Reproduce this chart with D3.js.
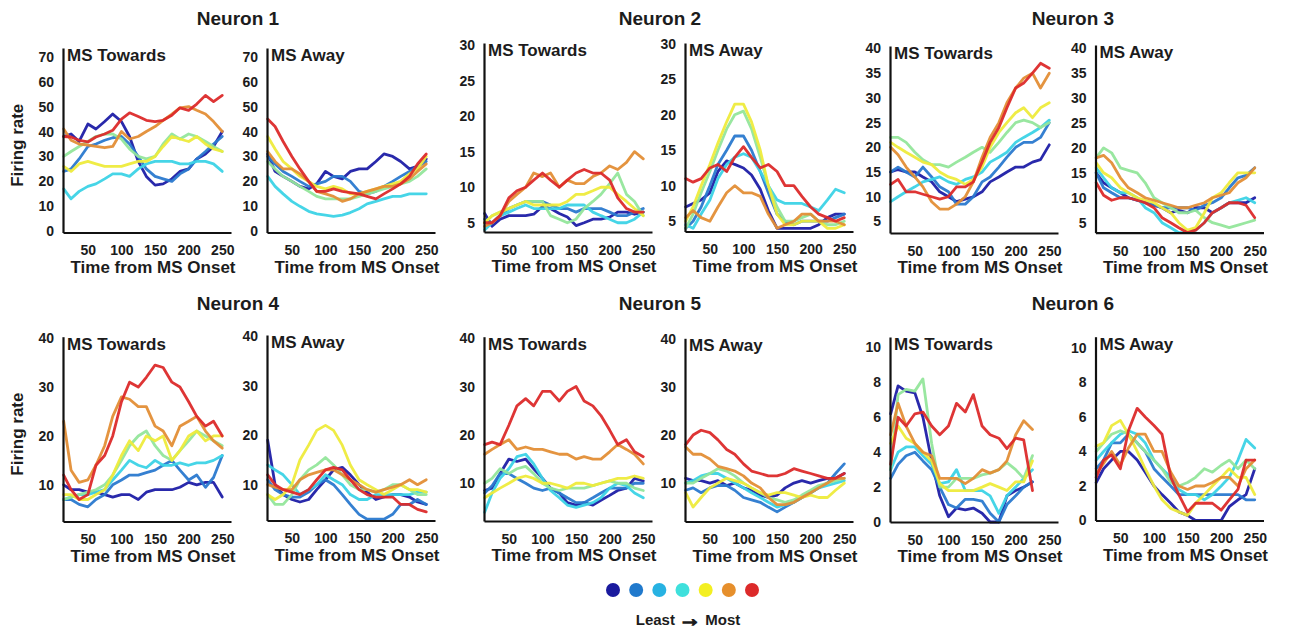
<!DOCTYPE html>
<html>
<head>
<meta charset="utf-8">
<script src="https://cdn.jsdelivr.net/npm/d3@7"></script>
<style>
  body { margin: 0; background: #fff; }
  svg text { font-family: "Liberation Sans", Arial, sans-serif; font-weight: bold; fill: #1c1c1c; }
</style>
</head>
<body>
<svg id="chart" width="1297" height="632"></svg>
<script>
// Time bins (ms from MS onset) shared by every trace
const times = [14, 25, 37, 50, 62, 75, 87, 100, 112, 125, 137, 150, 162, 175, 187, 200, 212, 225, 237, 250];
const xTicks = [50, 100, 150, 200, 250];

// Response levels, least -> most
const levels = ["L1", "L2", "L3", "L4", "L5", "L6", "L7"];
const levelColors = ["#1d1ea6", "#2a79cf", "#3cd3e6", "#93e69b", "#eeeb3c", "#e38e36", "#dc2a2a"];
const legendColors = ["#1a1a9e", "#2079cc", "#27b2e2", "#3fe0dc", "#f3ef22", "#e68f2c", "#dc2a2a"];

const neurons = ["Neuron 1", "Neuron 2", "Neuron 3", "Neuron 4", "Neuron 5", "Neuron 6"];
const conditions = ["MS Towards", "MS Away"];

// Y tick labels per neuron
const ticksN1 = [0, 10, 20, 30, 40, 50, 60, 70];
const ticksN2 = [5, 10, 15, 20, 25, 30];
const ticksN3 = [5, 10, 15, 20, 25, 30, 35, 40];
const ticksN4 = [10, 20, 30, 40];
const ticksN5 = [10, 20, 30, 40];
const ticksN6 = [0, 2, 4, 6, 8, 10];

// Firing rate traces, one array per level (least -> most)
const n1Towards = [
  [38, 39, 36, 43, 41, 44, 47, 44, 38, 28, 22, 18.5, 19, 21, 24, 25, 29, 31, 34, 40],
  [24, 25, 29, 34, 35, 36.5, 37.5, 38, 35, 30, 25, 22, 21, 20, 23, 25, 29, 32, 35, 38],
  [17, 13, 16, 18, 19, 21, 23, 23, 22, 25, 27, 28, 28, 28, 27, 27, 28, 28, 27, 24],
  [30, 32, 34, 36, 38, 39, 39, 37, 33, 30, 29, 30, 35, 39, 37, 39, 38, 36, 34, 32],
  [26, 24, 27, 28, 27, 26, 26, 26, 27, 28, 28, 30, 34, 38, 37, 36, 38, 35, 33, 32],
  [41, 36.5, 35, 34.5, 34, 33.5, 34, 40, 37, 38, 40, 42, 44.5, 47, 49.5, 50, 48.5, 47, 44, 40],
  [38, 37.8, 36.5, 35.8, 37.8, 39, 40.5, 45, 47.5, 46, 44.5, 44, 44.5, 46.5, 49.5, 48.5, 51, 54.5, 52, 54.5]
];
const n1Away = [
  [31, 24, 22, 20, 18, 17, 19, 24, 22, 21, 24, 25, 25, 28, 31, 30, 28, 25, 26, 29],
  [30, 27, 24, 22, 20, 18, 19, 20, 22, 22, 20, 16, 15, 16, 18, 20, 22, 24, 26, 28],
  [22, 18, 15, 12, 10, 8, 7, 6.5, 6, 6.5, 7.5, 9, 11, 12, 13, 14, 14, 15, 15, 15],
  [28, 25, 22, 20, 18, 16, 14, 13, 13, 13, 13, 14, 15, 16, 17, 18, 19, 20, 22, 25],
  [38, 33, 28, 25, 22, 20, 18, 17, 18, 17, 15, 15, 16, 17, 18, 19, 20, 23, 25, 30],
  [32, 28, 25, 25, 23, 20, 16, 15, 14, 12, 13, 15, 16, 17, 18, 18, 19, 21, 24, 27],
  [45, 42, 36, 30, 25, 20, 16, 16, 17, 16, 15.5, 15, 14, 13, 15, 17, 19, 22, 27, 31]
];
const n2Towards = [
  [6.3, 4.5, 5.5, 6, 6, 6, 6.2, 7.3, 7, 6.3, 5.8, 4.6, 5, 5.5, 5.5, 5.8, 6.5, 6.5, 6.2, 6.5],
  [5.5, 5, 6, 7, 7.5, 8, 8, 8, 7.5, 7, 7, 6.5, 7, 7, 7, 6.5, 6, 6, 6.5, 7],
  [4, 5, 6, 6.5, 7, 7.5, 7, 7, 7, 7, 7.5, 7.5, 7.5, 6.5, 6, 5.5, 5, 5, 5.5, 6.5],
  [5, 6, 6.5, 7, 7.5, 8, 8, 8, 6, 5.5, 5, 5.5, 7, 8, 9, 10.5, 12, 9, 8, 6],
  [5, 6, 6.5, 7, 7.5, 8, 7.5, 7.5, 7.5, 7.5, 8, 9, 9, 9.5, 10, 10, 9, 8, 7, 6],
  [4.5, 5, 6, 8, 9, 10, 12, 11.5, 12, 10, 11, 10.5, 10.5, 11.5, 12, 13, 12.5, 13.5, 15, 14],
  [5, 5, 6, 8.5, 9.5, 10, 11, 12, 11, 10, 11, 12, 12.5, 12, 12, 11, 8.5, 7, 6.5, 6.5]
];
const n2Away = [
  [7, 7.5, 8, 9, 12, 13.5, 13, 12.5, 11.5, 9.5, 6.5, 4, 4, 4, 4, 4, 4.5, 5.5, 6, 6],
  [4, 5, 7, 10, 13, 15, 17, 17, 15, 12, 9, 6, 5, 4.5, 5, 5, 5, 5, 5.5, 6],
  [4.5, 4, 6, 8, 11, 13, 14, 14.5, 14, 12, 10, 8, 7.5, 7.5, 7.5, 7, 6.5, 8, 9.5, 9],
  [4, 6, 9, 12, 15, 18, 20, 20.5, 18, 14, 10, 7, 5, 5, 5.5, 6, 5, 4.5, 4.5, 5],
  [5, 7, 10, 13, 16, 19, 21.5, 21.5, 19, 15, 10, 6, 4.5, 4.5, 5, 5, 5, 4, 4, 4.5],
  [5.5, 6.5, 5.5, 5, 7, 9, 10, 9, 9, 8.5, 6, 4, 4.5, 5, 6, 6, 5, 5, 5, 4.5],
  [11, 10.5, 11, 12.5, 13, 12, 14, 15.5, 14, 12.5, 13, 12, 10, 10, 8.5, 7, 6, 5.5, 5, 5.5]
];
const n3Towards = [
  [15, 15.5, 15, 15, 14, 13, 11, 10, 9, 9.5, 10, 11, 13, 14, 15, 16, 16, 17, 17.5, 20.5],
  [15, 16, 15, 14, 16, 14, 12, 11, 8.5, 8.5, 10, 13, 14, 16, 18, 20, 21, 21, 22, 25],
  [9, 10, 11, 12, 13, 13.5, 14, 13, 12.5, 13.5, 14, 15, 17, 18, 19, 21, 22, 23, 24, 25.5],
  [22, 22, 21, 19, 17.5, 16.5, 16.5, 16, 17, 18, 19, 20, 19, 21, 23, 25, 25.5, 25, 24, 25],
  [21, 20, 19, 18, 17, 16.5, 15, 14, 13.5, 12.5, 13.5, 16, 20, 23, 25, 27, 28, 26, 28, 29],
  [20, 18.5, 16, 14, 12, 9, 7.5, 7.5, 8.5, 10, 13, 18, 22, 25, 29, 32, 34, 35, 32, 35],
  [12.5, 13.5, 11, 11, 10.5, 10, 9.5, 10, 12, 12, 13, 17, 21, 24, 28, 32, 33, 35, 37, 36]
];
const n3Away = [
  [15, 13, 12, 11, 10, 9.5, 9, 8.5, 8, 7, 7.5, 7, 8, 8, 7, 8, 9, 9, 9, 10],
  [15, 12, 11, 10, 10, 9.5, 9, 8.5, 8, 8, 8, 8, 7.5, 8.5, 9, 10, 12, 14, 14.5, 16],
  [16, 14, 12, 11, 11, 10, 8, 7, 5, 4, 3, 3, 3.5, 5, 7, 8, 9, 9.5, 10, 9],
  [18, 20, 19, 16, 15.5, 15, 13, 10, 9, 8, 7, 7, 7.5, 6, 5, 4.5, 4, 4.5, 5, 5.5],
  [17, 15, 14, 12, 11, 10, 9.5, 9, 8, 7, 5, 3.5, 4, 7, 10, 11, 13, 15, 15, 15],
  [18, 18.5, 17, 14, 12, 11, 10, 9.5, 9, 8.5, 8, 8, 8.5, 9, 10, 10.5, 11, 13, 14, 16],
  [13, 10.5, 9.5, 10, 10, 9.5, 9, 8, 6, 5, 4, 3, 3.5, 5, 7, 8, 9, 9, 8.5, 6]
];
const n4Towards = [
  [10, 9, 9, 8.5, 8.5, 8, 7.5, 8, 8, 7, 8.5, 9, 9, 9, 9.5, 10.5, 10, 10.5, 10.5, 7.5],
  [7, 7, 6, 5.5, 7, 8, 10, 11, 12, 12, 12.5, 13, 14, 15, 13, 11, 12, 9.5, 11.5, 16],
  [7, 7.5, 8, 8, 8.5, 9, 11, 13, 15, 14, 13.5, 15, 14, 14, 14.5, 14, 14.5, 14.5, 15, 16],
  [7, 7.5, 8, 8.5, 9, 10, 12, 15, 18, 20, 21, 18, 16, 15, 17, 19, 21, 20, 19, 18],
  [8, 8, 7, 7, 8, 9, 12, 16, 19, 17, 20, 19, 20, 15, 17, 20, 21, 19, 20, 20],
  [23, 13, 10.5, 11, 14, 18, 24, 28, 27.5, 26, 26, 22, 21, 18, 22, 23, 24, 21, 19, 17.5],
  [12, 9, 7, 8, 14, 16, 20, 27, 31, 30, 32, 34.5, 34, 31, 30, 27, 24, 22, 23, 20]
];
const n4Away = [
  [19, 10, 8, 7, 6.5, 7, 9, 11, 13, 13.5, 12, 10, 8.5, 7, 7.5, 8, 8, 7.5, 6.5, 6],
  [11, 9, 8, 7.5, 7.5, 8.5, 10, 11, 10, 8, 6, 4, 3, 3, 3, 4, 6, 6, 7, 6],
  [14, 13, 12, 10, 8, 9, 10, 12, 11, 10, 8, 7, 7, 8, 8, 8, 8, 8, 8.5, 8.5],
  [8, 6, 6, 8, 11, 13, 14, 15.5, 14, 12, 10, 9, 9, 8.5, 9, 10, 10, 9, 8, 8],
  [8, 7, 8, 10, 15, 18, 21, 22, 21, 18, 14, 11, 10, 9, 8, 9, 10, 9, 9, 8.5],
  [10, 9.5, 9, 9, 11, 12, 12.5, 13, 13, 12, 11, 10, 9, 8.5, 9, 9.5, 10, 11, 10, 11],
  [12, 10, 9, 8.5, 8, 9, 11, 13, 13.5, 13, 11, 9, 8, 7.5, 7.5, 7.5, 6, 6, 5, 4.5]
];
const n5Towards = [
  [8.5, 9, 12, 15, 14.5, 15, 13, 11, 9, 8, 6, 5.5, 6, 5.5, 6.5, 7.5, 8.5, 9, 11, 10.5],
  [8, 9.5, 12, 12, 11, 10, 9, 8.5, 9, 8, 7, 6, 6, 7, 8, 9, 9, 9, 10, 10],
  [4, 8, 11, 13, 15.5, 16, 14, 11, 8.5, 7, 5.5, 5, 5.5, 6, 7, 9, 10, 9.5, 8, 7],
  [10, 11, 13, 12, 13, 13.5, 12, 10, 9, 8.5, 9, 9, 9, 9.5, 10, 10.5, 10, 10, 9, 8.5],
  [7, 8, 9, 10, 11, 11.5, 11, 10, 10, 9.5, 9, 10, 10, 9.5, 10, 10.5, 11, 11, 11.5, 11],
  [16, 17, 18, 19, 17, 17.5, 17, 17, 16.5, 16, 16, 15, 15.5, 15, 15, 16.5, 18, 17, 16, 14],
  [18, 18.5, 18, 22, 26, 27.5, 26, 29, 29, 27, 29, 30, 27, 26, 24, 21, 18, 19, 16.5, 15.5]
];
const n5Away = [
  [11, 10.5, 10.5, 10, 10.5, 9.5, 10, 9, 8.5, 7.5, 7, 7.5, 9, 10, 10.5, 10, 10.5, 11, 11, 12],
  [8.5, 9, 8, 9, 9.5, 9.5, 8.5, 7, 6.5, 6, 5, 4, 5, 6, 7, 8, 9, 10, 12, 14],
  [10, 10.5, 11.5, 12, 12, 11, 10, 9, 8, 7, 6, 5, 5.5, 6, 7, 8, 9, 9.5, 10, 10.5],
  [10, 10, 11, 12, 13, 12.5, 11.5, 10, 9, 8, 7, 6.5, 6, 6.5, 7.5, 8.5, 9.5, 10, 10.5, 11],
  [8, 5, 7, 9, 10, 11, 10.5, 10, 9, 8, 7.5, 8, 8, 7.5, 7, 7.5, 7, 7, 8.5, 10],
  [17.5, 16, 16, 15, 13.5, 13, 12.5, 11.5, 10, 9, 7, 5.5, 5.5, 6, 7, 8, 9, 10, 11, 11],
  [18, 20, 21, 20.5, 19, 17, 16, 14, 12.5, 12, 11.5, 11.5, 12, 13, 12.5, 12, 11.5, 11, 11, 12]
];
const n6Towards = [
  [6.2, 7.8, 7.5, 7.4, 6, 3.5, 1.5, 0.3, 0.8, 0.7, 0.8, 0.5, 0, 0, 1.5, 1.8, 2, 2.3],
  [2.5, 3.3, 3.8, 4, 3.5, 3, 2, 1, 0.8, 1.3, 1.3, 1.2, 0.5, 0, 1, 1.5, 2, 2.3],
  [3, 4, 4.3, 4.3, 3.8, 3.3, 2.2, 2.3, 3, 1.8, 1.8, 1.8, 1.5, 0.5, 1.5, 2, 2.5, 3],
  [3, 7.3, 7.6, 7.5, 8.2, 4.5, 2, 2, 2.5, 2.5, 2.5, 2.7, 2.8, 3, 3.4, 3, 2.5, 3.8],
  [4.5, 5.5, 4.8, 4.5, 4, 3.5, 2.2, 1.8, 1.8, 1.8, 1.8, 2, 2.2, 2, 1.8, 2.3, 2.3, 3.5],
  [5, 6.8, 5.5, 4.5, 4, 3.8, 2.5, 2.5, 2.5, 2.2, 2.5, 3, 2.8, 3, 3.5, 5, 5.8, 5.3],
  [3.3, 6, 5.5, 6.2, 6.3, 5.5, 5, 5.5, 6.8, 6.3, 7.3, 5.5, 5, 4.8, 4.2, 4.8, 4.7, 1.8]
];
const n6Away = [
  [2.2, 3, 3.5, 4, 4, 3.5, 2.8, 2, 1.5, 1, 0.5, 0.3, 0, 0, 0, 0, 0.8, 1.2, 1.5, 3],
  [3, 3.5, 4.5, 4.5, 5, 4.5, 4, 3, 2.5, 2, 1.5, 1.5, 1.5, 1.5, 1.5, 1.5, 1.5, 1.5, 1.2, 1.2],
  [3.5, 4, 4.5, 5, 5.2, 5, 4.5, 3.5, 3, 2.5, 1.8, 1.5, 1.5, 1.2, 1.5, 2, 2.5, 3.5, 4.7, 4.2],
  [4, 4.5, 5, 5.2, 5, 4.5, 4, 3.5, 3, 2.2, 2, 2.2, 2.5, 3, 2.8, 3.2, 3.5, 3, 3.5, 3],
  [4.3, 4.5, 5.5, 5.8, 5, 4, 3, 2, 1.2, 0.7, 0.5, 0.3, 1, 1.5, 2, 2.5, 3, 2.5, 2.5, 1.5],
  [2.7, 3.3, 4, 3.2, 4.2, 5, 5, 4, 4, 2.8, 2, 1.8, 2, 2, 2.2, 2.5, 2.5, 2, 3, 3.5],
  [2.5, 3.5, 3.8, 3, 5.2, 6.5, 6, 5.5, 5, 2.5, 1.5, 0.5, 1, 1, 1, 0.6, 1.2, 1.8, 3.5, 3.5]
];

// ---- layout ----
const W = 1297, H = 632;
const svg = d3.select("#chart").attr("viewBox", `0 0 ${W} ${H}`);

const colLeft = [63, 267, 484, 685, 890, 1095.5];
const plotW = 168;
const xDomain = [13, 263];
const titleX = [238, 660, 1073];

// each panel: data, ticks, y domain at axis ends, pixel rows
const panels = [
  { n: 0, c: 0, data: n1Towards, ticks: ticksN1, yd: [-0.5, 73.5], bottom: 232.5, top: 48 },
  { n: 0, c: 1, data: n1Away,    ticks: ticksN1, yd: [-0.5, 73.5], bottom: 232.5, top: 48 },
  { n: 1, c: 0, data: n2Towards, ticks: ticksN2, yd: [3.7, 30.3],  bottom: 232,   top: 43 },
  { n: 1, c: 1, data: n2Away,    ticks: ticksN2, yd: [3.55, 30.1], bottom: 231.5, top: 43 },
  { n: 2, c: 0, data: n3Towards, ticks: ticksN3, yd: [2.66, 40.5], bottom: 233,   top: 46 },
  { n: 2, c: 1, data: n3Away,    ticks: ticksN3, yd: [3.0, 40.6],  bottom: 232.7, top: 45 },
  { n: 3, c: 0, data: n4Towards, ticks: ticksN4, yd: [2.5, 40.3],  bottom: 521.5, top: 336.7 },
  { n: 3, c: 1, data: n4Away,    ticks: ticksN4, yd: [2.75, 40.3], bottom: 520.5, top: 335 },
  { n: 4, c: 0, data: n5Towards, ticks: ticksN5, yd: [2.2, 40.3],  bottom: 521,   top: 336.7 },
  { n: 4, c: 1, data: n5Away,    ticks: ticksN5, yd: [2.0, 40.15], bottom: 521.5, top: 338.3 },
  { n: 5, c: 0, data: n6Towards, ticks: ticksN6, yd: [0, 10.6],    bottom: 522,   top: 337 },
  { n: 5, c: 1, data: n6Away,    ticks: ticksN6, yd: [0, 10.65],   bottom: 520.5, top: 336.7 }
];

const line = d3.line()
  .defined(d => d.v != null)
  .x(d => d.xp).y(d => d.yp)
  .curve(d3.curveLinear);

panels.forEach(p => {
  const col = (p.n % 3) * 2 + p.c;
  const left = colLeft[col];
  const x = d3.scaleLinear().domain(xDomain).range([left, left + plotW]);
  const y = d3.scaleLinear().domain(p.yd).range([p.bottom, p.top]);
  const g = svg.append("g").attr("class", "panel");

  // traces, least first so the strongest level sits on top
  const traces = g.append("g").attr("class", "traces");
  p.data.forEach((vals, li) => {
    const pts = vals.map((v, j) => ({ xp: x(times[j]), yp: y(v), v }));
    traces.append("path")
      .attr("d", line(pts))
      .attr("fill", "none")
      .attr("stroke", levelColors[li])
      .attr("stroke-width", 2.8)
      .attr("stroke-linejoin", "round")
      .attr("stroke-linecap", "round")
      .attr("opacity", 0.95);
  });

  // axes
  const xa = g.append("g")
    .attr("transform", `translate(0,${p.bottom})`)
    .call(d3.axisBottom(x).tickValues(xTicks).tickSize(0).tickPadding(13).tickFormat(d3.format("d")));
  const ya = g.append("g")
    .attr("transform", `translate(${left},0)`)
    .call(d3.axisLeft(y).tickValues(p.ticks).tickSize(0).tickPadding(9).tickFormat(d3.format("d")));
  [xa, ya].forEach(a => {
    a.attr("font-family", null).attr("font-size", null);
    a.select(".domain").attr("stroke", "#111").attr("stroke-width", 2.2);
    a.selectAll("text").style("font-size", "14px").attr("fill", "#1c1c1c");
  });

  // condition label inside the plot
  g.append("text")
    .attr("x", left + 4)
    .attr("y", p.top + 13)
    .style("font-size", "17px")
    .text(conditions[p.c]);

  // x axis title
  g.append("text")
    .attr("x", left + plotW / 2 + 6)
    .attr("y", p.bottom + 40)
    .attr("text-anchor", "middle")
    .style("font-size", "17px")
    .text("Time from MS Onset");

  // neuron title over each pair
  if (p.c === 0) {
    svg.append("text")
      .attr("x", titleX[p.n % 3])
      .attr("y", p.n < 3 ? 25 : 310)
      .attr("text-anchor", "middle")
      .style("font-size", "19px")
      .text(neurons[p.n]);
  }
  // y axis title on the left column
  if (col === 0) {
    const cy = (p.top + p.bottom) / 2;
    svg.append("text")
      .attr("transform", `translate(23,${cy + 5}) rotate(-90)`)
      .attr("text-anchor", "middle")
      .style("font-size", "17px")
      .text("Firing rate");
  }
});

// colour legend
const lx = d3.scalePoint().domain(levels).range([613, 752]);
const legend = svg.append("g").attr("class", "legend");
legend.selectAll("circle")
  .data(levels)
  .join("circle")
  .attr("cx", d => lx(d))
  .attr("cy", 590)
  .attr("r", 7)
  .attr("fill", (d, i) => legendColors[i]);
const lt = legend.append("text")
  .attr("x", 688)
  .attr("y", 625)
  .attr("text-anchor", "middle")
  .style("font-size", "15px");
lt.append("tspan").text("Least ");
lt.append("tspan")
  .style("font-size", "22px")
  .attr("stroke", "#1c1c1c")
  .attr("stroke-width", 1.6)
  .attr("dy", 1)
  .text("\u2192");
lt.append("tspan").attr("dy", -1).text("  Most");
</script>
</body>
</html>
